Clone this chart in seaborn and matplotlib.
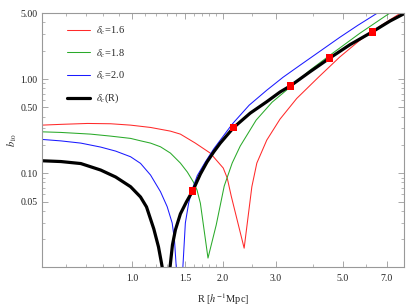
import numpy as np
import pandas as pd
import matplotlib
matplotlib.use("Agg")
import matplotlib.pyplot as plt
import matplotlib.ticker as mticker
import seaborn as sns

# values (R in h^-1 Mpc, |b_10|)
r_16 = [0.5, 0.579, 0.7096, 0.8474, 0.987, 1.15, 1.339, 1.445, 1.62, 1.816, 2.006, 2.068, 2.132,
        2.354, 2.497, 2.594, 2.799, 3.097, 3.519, 4.14, 4.894, 5.702, 6.642, 7.734, 8.03]
b_16 = [0.3249, 0.3311, 0.3385, 0.336, 0.3249, 0.307, 0.2806, 0.2608, 0.2094, 0.164, 0.1138, 0.0892, 0.0575,
        0.01605, 0.0721, 0.1285, 0.2253, 0.376, 0.623, 1.035, 1.719, 2.582, 3.635, 4.95, 5.375]

r_18 = [0.5, 0.579, 0.727, 0.8474, 0.987, 1.065, 1.15, 1.241, 1.339, 1.445, 1.524, 1.596, 1.641, 1.684,
        1.785, 1.901, 2.021, 2.148, 2.284, 2.58, 2.915, 3.344, 3.894, 4.535, 5.702, 6.988, 7.734]
b_18 = [0.2759, 0.2718, 0.2608, 0.2484, 0.2349, 0.2215, 0.2094, 0.1913, 0.164, 0.1285, 0.1032, 0.0809, 0.0665, 0.0481,
        0.0126, 0.0283, 0.0733, 0.1285, 0.1946, 0.367, 0.569, 0.821, 1.243, 1.792, 3.064, 4.75, 5.85]

r_20 = [0.5, 0.579, 0.6744, 0.785, 0.8805, 0.987, 1.065, 1.15, 1.241, 1.306, 1.357, 1.381, 1.402, 1.43,
        1.471, 1.501, 1.539, 1.58, 1.645, 1.748, 1.863, 2.148, 2.446, 2.799, 3.17, 3.609, 4.203, 4.894,
        5.616, 6.475, 7.17]
b_20 = [0.2292, 0.221, 0.2094, 0.19, 0.1722, 0.15, 0.1276, 0.0959, 0.0638, 0.0443, 0.0297, 0.01965, 0.00945, 0.003,
        0.00945, 0.0297, 0.0481, 0.0665, 0.0948, 0.1317, 0.1808, 0.3328, 0.529, 0.763, 1.047, 1.404, 1.975, 2.779,
        3.724, 4.95, 6.1]

r_c = [0.5, 0.579, 0.6744, 0.785, 0.8805, 0.987, 1.065, 1.115, 1.179, 1.222, 1.25, 1.265, 1.297,
       1.332, 1.36, 1.391, 1.445, 1.513, 1.587, 1.684, 1.771, 1.863, 1.961, 2.17, 2.465, 2.799, 3.1,
       3.357, 3.9, 4.535, 5.3, 6.28, 7.2, 8.03]
b_c = [0.136, 0.1334, 0.127, 0.1084, 0.0914, 0.0721, 0.0561, 0.044, 0.0257, 0.01657, 0.01121, 0.009, 0.003,
       0.00945, 0.0174, 0.0251, 0.0371, 0.0497, 0.0649, 0.0983, 0.1317, 0.168, 0.2094, 0.3056, 0.4353, 0.576, 0.731,
       0.85, 1.2, 1.677, 2.33, 3.18, 4.15, 4.98]

r_pts = [1.587, 2.17, 3.357, 4.535, 6.28]
b_pts = [0.0649, 0.3056, 0.845, 1.677, 3.17]

labels = [r"$\delta_c$=1.6", r"$\delta_c$=1.8", r"$\delta_c$=2.0", r"$\delta_c$(R)"]
colors = ["#ff2a2a", "#2aaa2a", "#1a1aff", "black"]
x_major = [1.0, 1.5, 2.0, 3.0, 5.0, 7.0]
x_labels = ["1.0", "1.5", "2.0", "3.0", "5.0", "7.0"]
y_major = [0.05, 0.1, 0.5, 1.0, 5.0]
y_labels = ["0.05", "0.10", "0.50", "1.00", "5.00"]

sns.set_style("ticks")
plt.rcParams["font.family"] = ["Liberation Serif", "DejaVu Serif"]
plt.rcParams["mathtext.fontset"] = "stix"

fig = plt.figure(figsize=(4.07, 3.06), dpi=100)
ax = fig.add_axes([0.1025, 0.1284, 0.8901, 0.8281])

series = [(r_16, b_16), (r_18, b_18), (r_20, b_20), (r_c, b_c)]
for (r, b), lab, col in zip(series, labels, colors):
    df = pd.DataFrame({"R": r, "b": b})
    lw = 2.3 if col == "black" else 0.75
    sns.lineplot(data=df, x="R", y="b", ax=ax, color=col, lw=lw,
                 label=lab, estimator=None, sort=False)

pts = pd.DataFrame({"R": r_pts, "b": b_pts})
sns.scatterplot(data=pts, x="R", y="b", ax=ax, marker="s", s=28,
                color="red", edgecolor="none", zorder=5, legend=False)

ax.set_xscale("log")
ax.set_yscale("log")
ax.set_xlim(0.5, 8.0)
ax.set_ylim(0.0102, 5.0)

ax.xaxis.set_major_locator(mticker.FixedLocator(x_major))
ax.xaxis.set_major_formatter(mticker.FixedFormatter(x_labels))
ax.xaxis.set_minor_locator(mticker.FixedLocator(
    [0.6, 0.7, 0.8, 0.9, 1.1, 1.2, 1.3, 1.4, 1.6, 1.7, 1.8, 1.9, 2.5, 4.0, 6.0]))
ax.xaxis.set_minor_formatter(mticker.NullFormatter())
ax.yaxis.set_major_locator(mticker.FixedLocator(y_major))
ax.yaxis.set_major_formatter(mticker.FixedFormatter(y_labels))
ax.yaxis.set_minor_locator(mticker.FixedLocator(
    [0.02, 0.03, 0.04, 0.06, 0.07, 0.08, 0.09, 0.2, 0.3, 0.4, 0.6, 0.7, 0.8, 0.9, 2.0, 3.0, 4.0]))
ax.yaxis.set_minor_formatter(mticker.NullFormatter())

for sp in ax.spines.values():
    sp.set_color("#999999")
    sp.set_linewidth(0.8)
    sp.set_visible(True)
ax.tick_params(which="both", direction="in", top=True, right=True,
               color="#999999", labelsize=7, labelcolor="#222222")
ax.tick_params(axis="x", pad=5)
ax.tick_params(axis="y", pad=3)
ax.tick_params(which="major", length=4, width=0.6)
ax.tick_params(which="minor", length=2, width=0.5)

ax.set_xlabel(r"R [$h^{-1}$Mpc]", fontsize=7.5, labelpad=6)
ax.set_ylabel(r"$b_{10}$", fontsize=7.5, labelpad=1)

ax.legend(loc="upper left", bbox_to_anchor=(0.069, 0.955), frameon=False,
          fontsize=7.5, borderpad=0, borderaxespad=0, handlelength=2.2,
          handletextpad=0.6, labelspacing=0.95)

fig.savefig("out.png", dpi=100)
